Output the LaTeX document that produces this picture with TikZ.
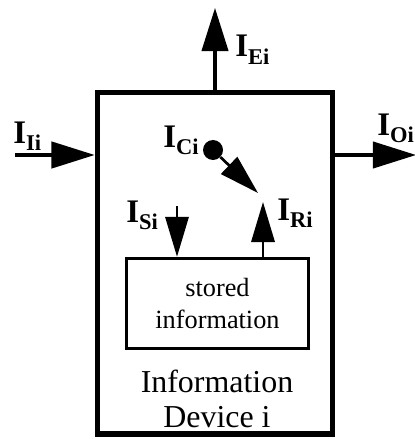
\documentclass[tikz,border=0pt]{standalone}
\usepackage{fontspec}
\setmainfont{Liberation Serif}
\usetikzlibrary{arrows.meta}

\newcommand{\flowlab}[1]{\fontsize{23.4}{24}\selectfont\bfseries I\raisebox{-5.6pt}{\fontsize{16}{16}\selectfont #1}}

\begin{document}
\begin{tikzpicture}[x=0.025cm,y=-0.025cm,
  bigflow/.style={line width=2.2pt,-{Triangle[length=1.08cm,width=0.66cm]}},
  smallflow/.style={line width=1.9pt,-{Triangle[length=1.0cm,width=0.58cm]}},
  flowname/.style={anchor=base west,inner sep=0pt}]
\useasboundingbox (0,0) rectangle (414,439);
% the device and its store
\node (dev) [draw=black,line width=4pt,minimum width=5.875cm,minimum height=8.5375cm] at (215,263.25) {};
\node (store) [draw=black,line width=2.4pt,minimum width=4.55cm,minimum height=2.25cm,align=center,
  font=\fontsize{18.7}{23.4}\selectfont] at (217.5,303.5) {stored\\information};
\node (devname) [align=center,inner sep=0pt,font=\fontsize{22.7}{24.8}\selectfont] at (217,398.5) {Information\\Device i};
\node (cdot) [circle,fill=black,minimum size=0.5cm,inner sep=0pt] at (213,150) {};
%
\coordinate (eout) at (215,8);
\coordinate (iin) at (15,155);
\coordinate (oout) at (416,155);
\coordinate (rtip) at (258,193);
\coordinate (sstart) at (177,206);
\coordinate (rtop) at (263,202);
%
\draw[bigflow] (dev.north) -- (eout);
\draw[bigflow] (iin) -- (iin -| dev.west);
\draw[bigflow] (oout -| dev.east) -- (oout);
\draw[smallflow] (cdot) -- (rtip);
\draw[smallflow] (sstart) -- (sstart |- store.north);
\draw[smallflow] (rtop |- store.north) -- (rtop);
%
\node (lEi) [flowname] at (235,57) {\flowlab{Ei}};
\node (lIi) [flowname] at (13,143) {\flowlab{Ii}};
\node (lOi) [flowname] at (377,135) {\flowlab{Oi}};
\node (lCi) [flowname] at (163,147) {\flowlab{Ci}};
\node (lSi) [flowname] at (126,222) {\flowlab{Si}};
\node (lRi) [flowname] at (277,220) {\flowlab{Ri}};
\end{tikzpicture}
\end{document}
